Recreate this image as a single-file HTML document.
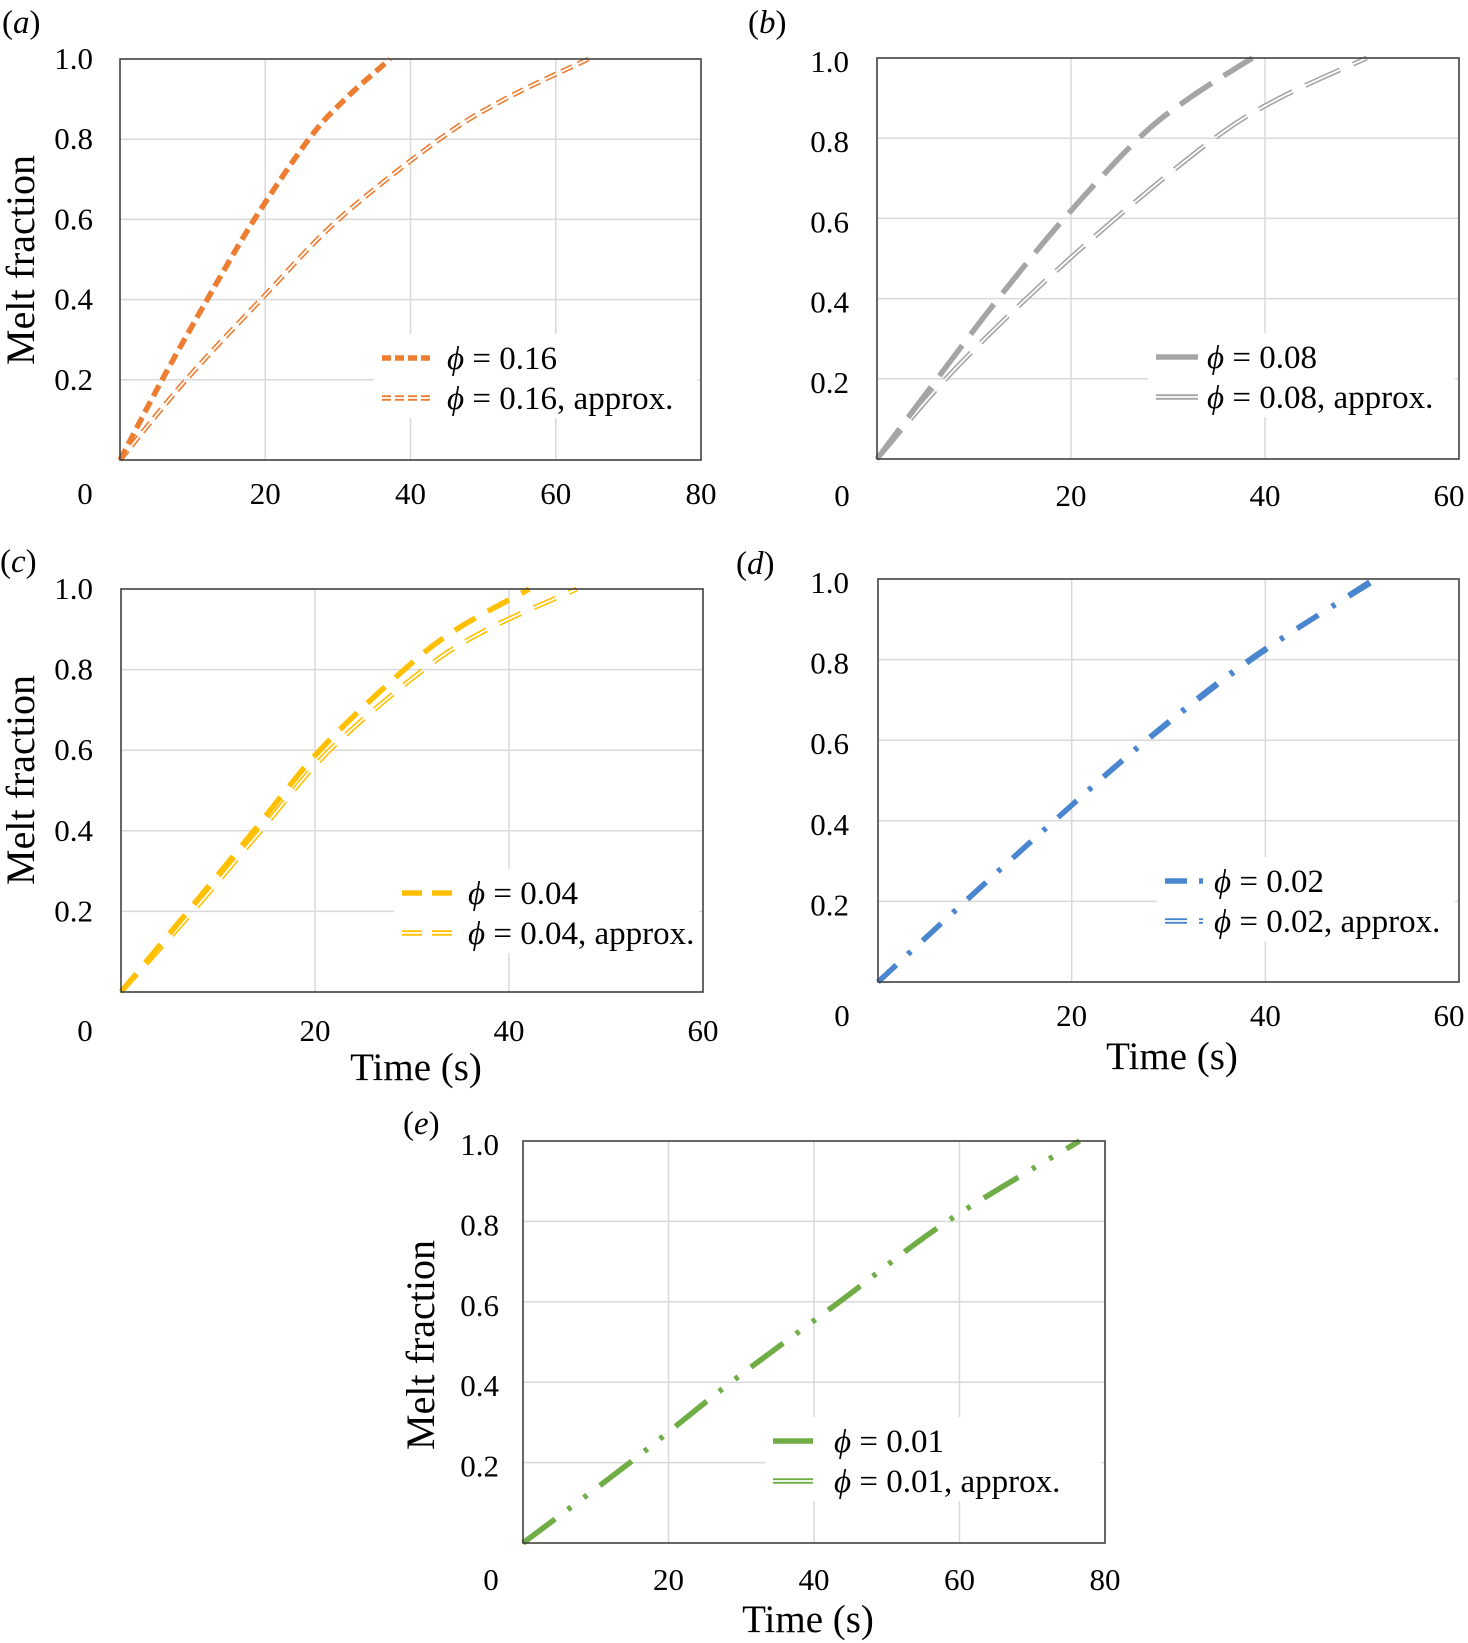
<!DOCTYPE html>
<html><head><meta charset="utf-8">
<style>
html,body{margin:0;padding:0;background:#fff;}
svg{display:block;font-family:"Liberation Serif",serif;}
</style></head>
<body>
<svg id="fig" width="1468" height="1643" viewBox="0 0 1468 1643" xmlns="http://www.w3.org/2000/svg"></svg>
<script>
// ---- data (time s, melt fraction) ----
const aMainX = [0, 5.8, 12, 18.5, 26, 31, 37.2];
const aMainY = [0, 0.2, 0.4, 0.6, 0.8, 0.9, 1.0];
const aApproxX = [0, 9.1, 19.4, 30.1, 44, 53, 64.5];
const aApproxY = [0, 0.2, 0.4, 0.6, 0.8, 0.9, 1.0];
const bMainX = [0, 6.2, 12.5, 19.3, 27, 32.2, 38.7];
const bMainY = [0, 0.2, 0.4, 0.6, 0.8, 0.9, 1.0];
const bApproxX = [0, 7.1, 15.4, 24.6, 34.8, 41.5, 50.5];
const bApproxY = [0, 0.2, 0.4, 0.6, 0.8, 0.9, 1.0];
const cMainX = [0, 6.9, 13.7, 20.5, 29.2, 34.6, 42.1];
const cMainY = [0, 0.2, 0.4, 0.6, 0.8, 0.9, 1.0];
const cApproxX = [0, 7.4, 14.4, 21.5, 31.2, 37.8, 47];
const cApproxY = [0, 0.2, 0.4, 0.6, 0.8, 0.9, 1.0];
const dMainX = [0, 9.0, 18.2, 27.7, 38.4, 51.5];
const dMainY = [0, 0.2, 0.4, 0.6, 0.8, 1.0];
const dApproxX = [0, 9.0, 18.2, 27.8, 38.6, 51.2];
const dApproxY = [0, 0.2, 0.4, 0.6, 0.8, 1.0];
const eMainX = [0, 14.7, 28.6, 43.5, 58.3, 76.5];
const eMainY = [0, 0.2, 0.4, 0.6, 0.8, 1.0];
const eApproxX = [0, 14.7, 28.6, 43.5, 58.3, 76.5];
const eApproxY = [0, 0.2, 0.4, 0.6, 0.8, 1.0];
const yTicks = [0.2, 0.4, 0.6, 0.8, 1.0];
const yTickLabels = ["0.2", "0.4", "0.6", "0.8", "1.0"];
const xTicks80 = [20, 40, 60, 80];
const xTicks60 = [20, 40, 60];
const legendA = [" = 0.16", " = 0.16, approx."];
const legendB = [" = 0.08", " = 0.08, approx."];
const legendC = [" = 0.04", " = 0.04, approx."];
const legendD = [" = 0.02", " = 0.02, approx."];
const legendE = [" = 0.01", " = 0.01, approx."];

const NS = "http://www.w3.org/2000/svg";
const svg = document.getElementById('fig');
function mk(tag, attrs, parent) {
  const el = document.createElementNS(NS, tag);
  for (const k in attrs) el.setAttribute(k, attrs[k]);
  (parent || svg).appendChild(el);
  return el;
}
function catmull(pts) {
  let d = "M" + pts[0][0] + "," + pts[0][1];
  for (let i = 0; i < pts.length - 1; i++) {
    const p0 = pts[Math.max(0, i - 1)], p1 = pts[i], p2 = pts[i + 1], p3 = pts[Math.min(pts.length - 1, i + 2)];
    const c1x = p1[0] + (p2[0] - p0[0]) / 6, c1y = p1[1] + (p2[1] - p0[1]) / 6;
    const c2x = p2[0] - (p3[0] - p1[0]) / 6, c2y = p2[1] - (p3[1] - p1[1]) / 6;
    d += " C" + c1x + "," + c1y + " " + c2x + "," + c2y + " " + p2[0] + "," + p2[1];
  }
  return d;
}

function panel(cfg) {
  const g = mk('g', {});
  
  
  const sx = v => cfg.L + (v / cfg.xmax) * (cfg.R - cfg.L);
  const sy = v => cfg.B - v * (cfg.B - cfg.T);
  cfg.xt.forEach(v => {
    if (v >= cfg.xmax) return;
    const l = mk('line', {x1: sx(v), x2: sx(v), y1: cfg.T, y2: cfg.B, stroke: '#d9d9d9', 'stroke-width': 1.5}, g);
    
    
  });
  yTicks.forEach(v => {
    if (v >= 1) return;
    const l = mk('line', {x1: cfg.L, x2: cfg.R, y1: sy(v), y2: sy(v), stroke: '#d9d9d9', 'stroke-width': 1.5}, g);
    
    
  });
  const lb = mk('rect', {x: cfg.lgX - 8, y: cfg.lgY - 24, width: cfg.R - cfg.lgX + 4, height: 84, fill: '#fff'}, g);
  
  
  const series = [
    {x: cfg.mx, y: cfg.my, approx: false},
    {x: cfg.ax, y: cfg.ay, approx: true}
  ];
  series.slice().reverse().forEach(s => {
    const pts = s.x.map((v, i) => [sx(v), sy(s.y[i])]);
    const d = catmull(pts);
    const p = mk('path', {d: d, fill: 'none', stroke: cfg.color, 'stroke-width': s.approx ? 5 : 5.5, 'stroke-dasharray': cfg.dash, 'stroke-linecap': 'butt'}, g);
    
    
    if (s.approx) {
      const w = mk('path', {d: d, fill: 'none', stroke: '#fff', 'stroke-width': 1.8, 'stroke-dasharray': cfg.dash, 'stroke-linecap': 'butt'}, g);
      
      
    }
  });
  const fr = mk('rect', {x: cfg.L, y: cfg.T, width: cfg.R - cfg.L, height: cfg.B - cfg.T, fill: 'none', stroke: '#404040', 'stroke-width': 1.6}, g);
  
  
  yTicks.forEach((v, i) => {
    const t = mk('text', {x: cfg.ylx, y: sy(v) + 10 + cfg.yoff, 'text-anchor': 'end', 'font-size': 31}, g);
    t.textContent = yTickLabels[i];
    
    
  });
  const z = mk('text', {x: cfg.zeroX, y: cfg.xly, 'text-anchor': 'middle', 'font-size': 31}, g);
  z.textContent = '0';
  
  
  cfg.xt.forEach(v => {
    const t = mk('text', {x: Math.min(sx(v), 1449), y: cfg.xly, 'text-anchor': 'middle', 'font-size': 31}, g);
    t.textContent = String(v);
    
    
  });
  const pl = mk('text', {x: cfg.plX, y: cfg.plY, 'font-size': 33}, g);
  pl.innerHTML = '(<tspan font-style="italic">' + cfg.id + '</tspan>)';
  
  
  if (cfg.yTitle) {
    const yt = mk('text', {x: 0, y: 0, 'text-anchor': 'middle', 'font-size': 40, transform: 'translate(' + cfg.yTitle[0] + ',' + cfg.yTitle[1] + ') rotate(-90)'}, g);
    yt.textContent = 'Melt fraction';
    
    
  }
  if (cfg.xTitle) {
    const xt = mk('text', {x: cfg.xTitle[0], y: cfg.xTitle[1], 'text-anchor': 'middle', 'font-size': 39}, g);
    xt.textContent = 'Time (s)';
    
    
  }
  cfg.legend.forEach((txt, i) => {
    const y = cfg.lgY + i * 40;
    const ls = mk('line', {x1: cfg.lgX, x2: cfg.lgX + cfg.lgW, y1: y, y2: y, stroke: cfg.color, 'stroke-width': 5.5, 'stroke-dasharray': cfg.ldash, 'stroke-linecap': 'butt'}, g);
    
    
    if (i) {
      const w = mk('line', {x1: cfg.lgX, x2: cfg.lgX + cfg.lgW, y1: y, y2: y, stroke: '#fff', 'stroke-width': 1.8, 'stroke-dasharray': cfg.ldash, 'stroke-linecap': 'butt'}, g);
      
      
    }
    const t = mk('text', {x: cfg.lgT, y: y + 11, 'font-size': 33}, g);
    t.innerHTML = '<tspan font-style="italic">\u03D5</tspan>' + txt;
    
    
  });
}

panel({id: 'a', L: 120, R: 701, T: 59, B: 460, xmax: 80, xt: xTicks80, mx: aMainX, my: aMainY, ax: aApproxX, ay: aApproxY,
  color: '#ed7d31', dash: '12 6', ldash: '9 4', ylx: 93, yoff: 0, zeroX: 85, xly: 504, plX: 2, plY: 33, yTitle: [34, 260], xTitle: null,
  legend: legendA, lgX: 382, lgW: 50, lgY: 358, lgT: 447});
panel({id: 'b', L: 877, R: 1459, T: 58, B: 459, xmax: 60, xt: xTicks60, mx: bMainX, my: bMainY, ax: bApproxX, ay: bApproxY,
  color: '#a5a5a5', dash: '38 14', ldash: '42 0', ylx: 849, yoff: 4, zeroX: 842, xly: 506, plX: 748, plY: 33, yTitle: null, xTitle: null,
  legend: legendB, lgX: 1156, lgW: 42, lgY: 357, lgT: 1207});
panel({id: 'c', L: 121, R: 703, T: 589, B: 992, xmax: 60, xt: xTicks60, mx: cMainX, my: cMainY, ax: cApproxX, ay: cApproxY,
  color: '#ffc000', dash: '24 14', ldash: '20 10', ylx: 93, yoff: 0, zeroX: 85, xly: 1041, plX: 0, plY: 572, yTitle: [34, 780], xTitle: [416, 1080],
  legend: legendC, lgX: 402, lgW: 50, lgY: 893, lgT: 468});
panel({id: 'd', L: 878, R: 1459, T: 579, B: 982, xmax: 60, xt: xTicks60, mx: dMainX, my: dMainY, ax: dApproxX, ay: dApproxY,
  color: '#4a86cf', dash: '25 16 4 16', ldash: '22 12 4 12', ylx: 849, yoff: 4, zeroX: 842, xly: 1026, plX: 736, plY: 574, yTitle: null, xTitle: [1172, 1069],
  legend: legendD, lgX: 1165, lgW: 42, lgY: 881, lgT: 1214});
panel({id: 'e', L: 523, R: 1105, T: 1141, B: 1543, xmax: 80, xt: xTicks80, mx: eMainX, my: eMainY, ax: eApproxX, ay: eApproxY,
  color: '#70ad47', dash: '40 16 4 16 4 16', ldash: '40 10', ylx: 499, yoff: 4, zeroX: 491, xly: 1590, plX: 403, plY: 1134, yTitle: [434, 1345], xTitle: [808, 1632],
  legend: legendE, lgX: 773, lgW: 40, lgY: 1441, lgT: 834});
</script>
</body></html>
